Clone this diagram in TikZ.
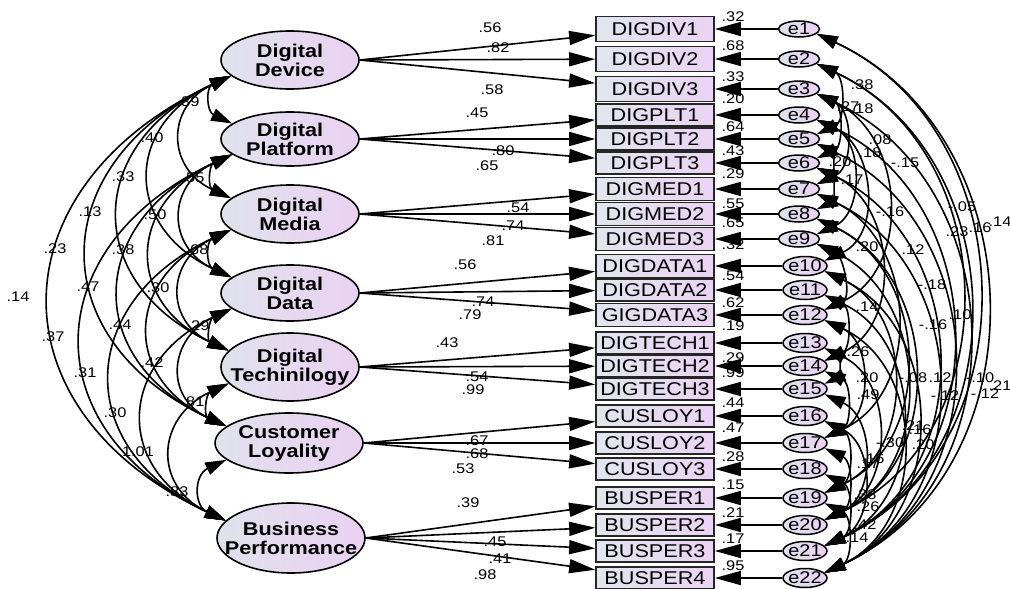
\documentclass[tikz,border=0pt]{standalone}
\usepackage{fontspec}
\setmainfont{Liberation Sans}[FakeStretch=1.17]
\usetikzlibrary{arrows.meta,shapes.geometric}
\definecolor{latL}{HTML}{DFE2EC}
\definecolor{latR}{HTML}{EBD1F3}
\definecolor{obsL}{HTML}{E2E6EE}
\definecolor{obsR}{HTML}{EAD3F3}
\tikzset{
  lat/.style={ellipse, draw, line width=1.6pt, left color=latL, right color=latR, inner sep=0pt},
  lattxt/.style={font=\fontsize{18.5}{19}\selectfont\bfseries, align=center, inner sep=0pt},
  obs/.style={rectangle, draw=black!85, line width=1.7pt, left color=obsL, right color=obsR, minimum width=118pt, inner sep=0pt, font=\fontsize{18.5}{18.5}\selectfont},
  err/.style={ellipse, draw, line width=1.5pt, left color=latL, right color=latR, inner sep=0pt},
  etxt/.style={font=\fontsize{17}{17}\selectfont, inner sep=0pt},
  num/.style={font=\fontsize{14}{14}\selectfont, inner sep=0pt},
  load/.style={line width=1.6pt, -{Triangle[length=26pt,width=14pt]}},
  cov/.style={line width=1.6pt, {Triangle[length=21pt,width=13pt]}-{Triangle[length=21pt,width=13pt]}}
}
\begin{document}
\begin{tikzpicture}[x=1pt,y=-1pt]
\useasboundingbox[fill=white] (0,0) rectangle (1010,589);

% latent variables
\node[lat, minimum width=138pt, minimum height=58pt, label={[lattxt]center:{Digital\\Device}}] (DD) at (290,60) {};
\node[lat, minimum width=138pt, minimum height=54pt, label={[lattxt]center:{Digital\\Platform}}] (DP) at (290,139) {};
\node[lat, minimum width=138pt, minimum height=58pt, label={[lattxt]center:{Digital\\Media}}] (DM) at (290,214) {};
\node[lat, minimum width=138pt, minimum height=56pt, label={[lattxt]center:{Digital\\Data}}] (DA) at (290,293) {};
\node[lat, minimum width=138pt, minimum height=68pt, label={[lattxt]center:{Digital\\Techinilogy}}] (DT) at (290,367) {};
\node[lat, minimum width=148pt, minimum height=60pt, label={[lattxt]center:{Customer\\Loyality}}] (CL) at (289,443) {};
\node[lat, minimum width=148pt, minimum height=70pt, label={[lattxt]center:{Business\\Performance}}] (BP) at (291,538) {};

% observed variables
\foreach \i/\t/\y/\h in {1/DIGDIV1/29/25, 2/DIGDIV2/59/25, 3/DIGDIV3/89/25,
  4/DIGPLT1/115/22, 5/DIGPLT2/139/22, 6/DIGPLT3/163/22,
  7/DIGMED1/189/23, 8/DIGMED2/214/23, 9/DIGMED3/239/23,
  10/DIGDATA1/266/23, 11/DIGDATA2/290/22, 12/GIGDATA3/315/23,
  13/DIGTECH1/343/22, 14/DIGTECH2/366/22, 15/DIGTECH3/389/22,
  16/CUSLOY1/416/22, 17/CUSLOY2/443/22, 18/CUSLOY3/469/22,
  19/BUSPER1/498/22, 20/BUSPER2/525/22, 21/BUSPER3/551/22, 22/BUSPER4/578/22}
  {\node[obs, minimum height=\h pt] (r\i) at (655,\y) {\t};}

% error terms
\foreach \i/\y in {1/29, 2/59, 3/89, 4/115, 5/139, 6/163, 7/189, 8/214, 9/239}
  {\node[err, minimum width=41pt, minimum height=16pt, label={[etxt]center:e\i}] (e\i) at (799,\y) {};}
\foreach \i/\y in {10/266, 11/290, 12/315, 13/343, 14/366, 15/389, 16/416, 17/443, 18/469, 19/498, 20/525, 21/551, 22/578}
  {\node[err, minimum width=44pt, minimum height=19pt, label={[etxt]center:e\i}] (e\i) at (805,\y) {};}

% loadings
\foreach \i in {1,2,3} {\draw[load] (DD.east) -- (r\i);}
\foreach \i in {4,5,6} {\draw[load] (DP.east) -- (r\i);}
\foreach \i in {7,8,9} {\draw[load] (DM.east) -- (r\i);}
\foreach \i in {10,11,12} {\draw[load] (DA.east) -- (r\i);}
\foreach \i in {13,14,15} {\draw[load] (DT.east) -- (r\i);}
\foreach \i in {16,17,18} {\draw[load] (CL.east) -- (r\i);}
\foreach \i in {19,20,21,22} {\draw[load] (BP.east) -- (r\i);}

% error paths
\foreach \i in {1,...,22} {\draw[load] (e\i) -- (r\i);}

% loading labels
\foreach \k/\v/\x/\y in {1/.56/490/28, 2/.82/498/48, 3/.58/492/90, 4/.45/477/113, 5/.80/503/151, 6/.65/487/166,
  7/.54/518/208, 8/.74/513/226, 9/.81/493/241, 10/.56/465/265, 11/.74/483/302, 12/.79/470/315,
  13/.43/447/343, 14/.54/477/377, 15/.99/473/390, 16/.67/477/441, 17/.68/477/454, 18/.53/463/469,
  19/.39/468/503, 20/.45/495/542, 21/.41/500/559, 22/.98/485/575}
  {\node[num] (ll\k) at (\x,\y) {\v};}

% squared multiple correlations
\foreach \k/\v/\y in {1/.32/17, 2/.68/46, 3/.33/77, 4/.20/99, 5/.64/127, 6/.43/151, 7/.29/174, 8/.55/204,
  9/.65/223, 10/.32/245, 11/.54/276, 12/.62/303, 13/.19/326, 14/.29/358, 15/.99/373, 16/.44/403,
  17/.47/428, 18/.28/457, 19/.15/485, 20/.21/513, 21/.17/539, 22/.95/566}
  {\node[num] (sm\k) at (733,\y) {\v};}

% latent covariances
\foreach \k/\a/\b/\v/\x/\y in {1/DD/DP/.39/188/102, 2/DD/DM/.40/152/138, 3/DD/DA/.33/123/177,
  4/DD/DT/.13/90/212, 5/DD/CL/.23/55/249, 6/DD/BP/.14/18/297,
  7/DP/DM/.55/193/178, 8/DP/DA/.50/155/215, 9/DP/DT/.38/123/250, 10/DP/CL/.47/88/287, 11/DP/BP/.37/53/337,
  12/DM/DA/.68/197/250, 13/DM/DT/.30/158/288, 14/DM/CL/.44/120/325, 15/DM/BP/.31/85/373,
  16/DA/DT/.29/198/326, 17/DA/CL/.42/152/363, 18/DA/BP/.30/115/413,
  19/DT/CL/.81/193/402, 20/DT/BP/1.01/138/452, 21/CL/BP/.83/177/492}
  {\draw[cov] (\a.195) to[out=205,in=155,looseness=1.5] (\b.165);
   \node[num] (lc\k) at (\x,\y) {\v};}

% error covariances
\foreach \k/\a/\b/\v/\x/\y in {1/2/5/.38/862/85, 2/3/6/.27/848/107, 3/3/7/.18/862/109, 4/4/9/.08/880/140,
  5/4/10/.18/870/153, 6/3/12/-.15/905/163, 7/5/7/.20/840/162, 8/6/8/.17/852/180, 9/6/14/-.16/890/212,
  10/2/20/-.05/962/207, 11/2/21/.23/957/232, 12/1/21/.16/980/228, 13/1/22/.14/1000/222,
  14/9/12/.20/867/247, 15/7/17/.12/913/250, 16/8/20/-.18/932/285, 17/11/14/.14/867/307,
  18/7/22/.10/960/315, 19/8/19/-.16/933/325, 20/13/15/.26/858/352, 21/12/17/.20/867/378,
  22/10/19/-.08/913/378, 23/6/21/.12/940/378, 24/9/20/-.12/945/396, 25/5/22/-.10/980/378,
  26/4/21/-.12/985/394, 27/3/22/.21/1000/386, 28/14/17/.49/868/395, 29/11/21/.21/913/426,
  30/10/22/.16/920/430, 31/13/20/-.30/890/443, 32/12/22/.20/923/445, 33/15/20/.16/873/459,
  34/16/19/.17/868/464, 35/17/20/.38/865/495, 36/16/21/.26/868/507, 37/18/21/.42/865/525,
  38/19/22/.14/857/538}
  {\draw[cov] (e\a.-15) to[out=-25,in=25,looseness=1.15] (e\b.15);
   \node[num] (le\k) at (\x,\y) {\v};}
\end{tikzpicture}
\end{document}
